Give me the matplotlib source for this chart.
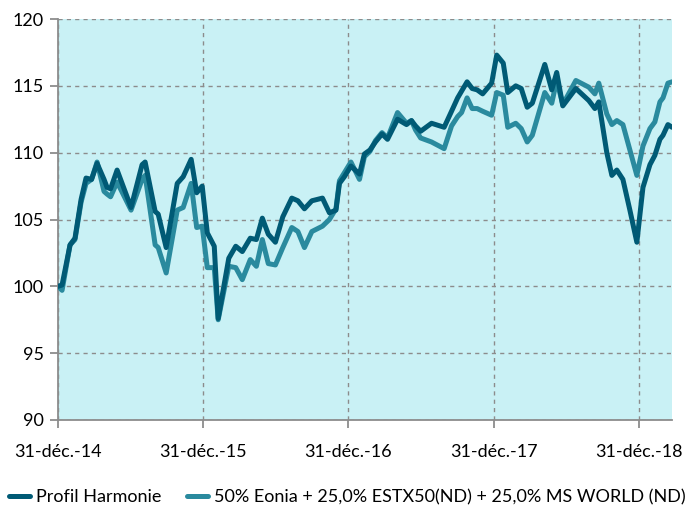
import matplotlib
matplotlib.use("Agg")
import matplotlib.pyplot as plt
from matplotlib.ticker import FixedLocator

# Dates expressed as decimal years (31-déc.-14 = 2015.0)
dates = [
    2015.000, 2015.028, 2015.083, 2015.117, 2015.159, 2015.193, 2015.231, 2015.269,
    2015.317, 2015.338, 2015.362, 2015.407, 2015.503, 2015.579, 2015.600, 2015.669,
    2015.690, 2015.745, 2015.821, 2015.862, 2015.917, 2015.955, 2015.993, 2016.028,
    2016.076, 2016.103, 2016.176, 2016.224, 2016.269, 2016.324, 2016.366, 2016.407,
    2016.448, 2016.497, 2016.548, 2016.610, 2016.652, 2016.697, 2016.748, 2016.821,
    2016.869, 2016.914, 2016.938, 2016.972, 2017.017, 2017.076, 2017.110, 2017.148,
    2017.186, 2017.231, 2017.269, 2017.338, 2017.400, 2017.434, 2017.462, 2017.497,
    2017.572, 2017.659, 2017.710, 2017.752, 2017.779, 2017.817, 2017.852, 2017.886,
    2017.924, 2017.986, 2018.021, 2018.066, 2018.097, 2018.152, 2018.190, 2018.231,
    2018.266, 2018.352, 2018.400, 2018.434, 2018.476, 2018.566, 2018.655, 2018.697,
    2018.724, 2018.779, 2018.814, 2018.848, 2018.890, 2018.938, 2018.986, 2019.028,
    2019.076, 2019.110, 2019.145, 2019.166, 2019.200, 2019.228,
]

profil_harmonie = [
    100.0, 100.1, 103.1, 103.6, 106.5, 108.1, 108.0, 109.2,
    108.0, 107.4, 107.3, 108.7, 105.9, 109.1, 109.3, 105.6,
    105.4, 102.9, 107.7, 108.2, 109.5, 107.0, 107.5, 104.0,
    103.0, 97.6, 102.1, 103.0, 102.6, 103.6, 103.5, 105.1,
    103.9, 103.3, 105.2, 106.6, 106.4, 105.8, 106.4, 106.6,
    105.5, 105.7, 107.7, 108.2, 109.0, 108.4, 109.9, 110.2,
    110.8, 111.4, 111.0, 112.5, 112.1, 112.4, 112.0, 111.6,
    112.2, 111.9, 113.1, 114.1, 114.6, 115.3, 114.8, 114.7,
    114.4, 115.2, 117.3, 116.7, 114.5, 115.0, 114.8, 113.4,
    113.7, 116.6, 114.7, 116.0, 113.5, 114.8, 113.9, 113.3,
    113.8, 110.0, 108.3, 108.7, 108.0, 105.7, 103.3, 107.4,
    109.1, 109.8, 111.0, 111.3, 112.1, 111.9,
]

benchmark = [
    100.0, 99.7, 103.1, 103.5, 106.3, 107.7, 108.0, 109.3,
    107.1, 106.9, 106.7, 107.8, 105.7, 108.0, 108.3, 103.1,
    102.9, 101.0, 105.7, 105.9, 107.7, 104.4, 104.5, 101.4,
    101.4, 97.5, 101.5, 101.4, 100.5, 102.0, 101.5, 103.5,
    101.7, 101.6, 102.9, 104.4, 104.1, 102.9, 104.1, 104.5,
    105.0, 105.8, 107.9, 108.5, 109.3, 108.0, 109.7, 110.1,
    110.9, 111.5, 111.1, 113.0, 112.2, 112.4, 111.7, 111.1,
    110.8, 110.3, 112.0, 112.7, 113.0, 114.1, 113.3, 113.3,
    113.1, 112.8, 114.5, 114.3, 111.9, 112.2, 111.8, 110.8,
    111.3, 114.5, 113.7, 115.4, 113.6, 115.4, 114.9, 114.4,
    115.2, 112.9, 112.1, 112.4, 112.1, 110.2, 108.3, 110.5,
    111.8, 112.3, 113.8, 114.1, 115.2, 115.3,
]

x_ticks = [2015, 2016, 2017, 2018, 2019]
x_labels = ["31-déc.-14", "31-déc.-15", "31-déc.-16", "31-déc.-17", "31-déc.-18"]
y_ticks = [90, 95, 100, 105, 110, 115, 120]

series_names = ["Profil Harmonie",
                "50% Eonia + 25,0% ESTX50(ND) + 25,0% MS WORLD (ND)"]

plt.rcParams['font.family'] = ['Lato', 'DejaVu Sans']

fig = plt.figure(figsize=(6.94, 5.09), dpi=100)
ax = fig.add_axes([58/694, 1 - 420/509, (672 - 58)/694, (420 - 19)/509])
ax.set_facecolor('#C9F1F5')

l_bench, = ax.plot(dates, benchmark, color='#2A8A9E', lw=3.6, solid_joinstyle='round',
                   solid_capstyle='round', label=series_names[1], zorder=3)
l_prof, = ax.plot(dates, profil_harmonie, color='#005A75', lw=3.6, solid_joinstyle='round',
                  solid_capstyle='round', label=series_names[0], zorder=4)

ax.set_xlim(2015.0, 2019.228)
ax.set_ylim(90, 120)
ax.xaxis.set_major_locator(FixedLocator(x_ticks))
ax.set_xticklabels(x_labels)
ax.yaxis.set_major_locator(FixedLocator(y_ticks))

ax.grid(True, color='#8C8C8C', linestyle=(0, (3, 3)), linewidth=1.0)
ax.set_axisbelow(True)

for s in ['top', 'right']:
    ax.spines[s].set_visible(False)
for s in ['left', 'bottom']:
    ax.spines[s].set_color('#8C8C8C')
    ax.spines[s].set_linewidth(1.3)

ax.tick_params(axis='both', colors='#8C8C8C', length=6, width=1.3,
               labelsize=13, labelcolor='black')
ax.tick_params(axis='x', pad=11)
ax.tick_params(axis='y', pad=4)

fig.legend([l_prof, l_bench], [series_names[0], series_names[1]],
           loc='center', bbox_to_anchor=(0.5, 1 - 497/509), ncol=2,
           frameon=False, fontsize=13, handlelength=1.2, handletextpad=0.3,
           columnspacing=1.4)

fig.savefig('out.png', dpi=100)
